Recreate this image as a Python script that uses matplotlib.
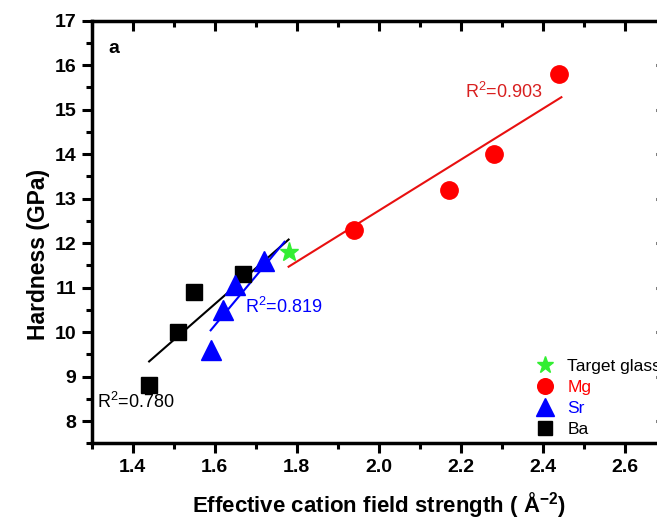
# -*- coding:utf-8 -*-
import numpy as np
import matplotlib
matplotlib.use('Agg')
import matplotlib.pyplot as plt
from matplotlib.ticker import MultipleLocator

# data
ba_x = [1.44, 1.51, 1.55, 1.67]
ba_y = [8.8, 10.0, 10.9, 11.3]
sr_x = [1.59, 1.62, 1.65, 1.72]
sr_y = [9.6, 10.5, 11.05, 11.6]
mg_x = [1.94, 2.17, 2.28, 2.44]
mg_y = [12.3, 13.2, 14.0, 15.8]
target_x = [1.78]
target_y = [11.8]

# fitted line ends as drawn in the picture
ba_fit_x = [1.44, 1.78]
ba_fit_y = [9.34, 12.08]
sr_fit_x = [1.59, 1.77]
sr_fit_y = [10.04, 12.03]
mg_fit_x = [1.78, 2.445]
mg_fit_y = [11.47, 15.28]

r2_labels = ['0.903', '0.819', '0.780']

plt.rcParams['font.family'] = ['Liberation Sans', 'DejaVu Sans']
plt.rcParams['mathtext.fontset'] = 'custom'
plt.rcParams['mathtext.rm'] = 'Liberation Sans'
plt.rcParams['mathtext.bf'] = 'Liberation Sans:bold'

W, H = 657, 520
fig = plt.figure(figsize=(W/100, H/100), dpi=100)
left, right, top, bottom = 91.7, 666.0, 20.7, 443.3
ax = fig.add_axes([left/W, 1-bottom/H, (right-left)/W, (bottom-top)/H])

red = '#FF0000'
blue = '#0000FF'
green = '#33EE33'

ax.plot(ba_fit_x, ba_fit_y, color='black', lw=1.5)
ax.plot(sr_fit_x, sr_fit_y, color=blue, lw=1.5)
ax.plot(mg_fit_x, mg_fit_y, color='#E81010', lw=1.5)

h_ba, = ax.plot(ba_x, ba_y, 's', color='black', ms=11, ls='none')
h_sr, = ax.plot(sr_x, sr_y, '^', color=blue, ms=14, ls='none')
h_mg, = ax.plot(mg_x, mg_y, 'o', color=red, ms=12.5, ls='none')
h_tg, = ax.plot(target_x, target_y, '*', color=green, ms=14, ls='none')

ax.text(2.21, 15.26, r'R$^{2}$=' + r2_labels[0], color='#D82020', fontsize=13, va='baseline')
ax.text(1.673, 10.42, r'R$^{2}$=' + r2_labels[1], color=blue, fontsize=13, va='baseline')
ax.text(1.313, 8.29, r'R$^{2}$=' + r2_labels[2], color='black', fontsize=13, va='baseline')
ax.text(0.039, 0.935, 'a', transform=ax.transAxes, fontsize=14, fontweight='bold',
        ha='center', va='center')

leg = ax.legend([h_tg, h_mg, h_sr, h_ba], ['Target glass', 'Mg', 'Sr', 'Ba'],
                loc='upper left', bbox_to_anchor=(0.775, 0.199), frameon=False,
                fontsize=12.5, handlelength=1.0, handletextpad=0.75, labelspacing=0.33,
                borderpad=0, borderaxespad=0, markerscale=0.9)
for t, c in zip(leg.get_texts(), ['black', red, blue, 'black']):
    t.set_color(c)

ax.set_xlim(1.3, 2.7)
ax.set_ylim(7.5, 17)
ax.xaxis.set_major_locator(MultipleLocator(0.2))
ax.xaxis.set_minor_locator(MultipleLocator(0.1))
ax.yaxis.set_major_locator(MultipleLocator(1))
ax.yaxis.set_minor_locator(MultipleLocator(0.5))
ax.set_xticks(np.arange(1.4, 2.61, 0.2))
ax.set_xticklabels(['%.1f' % v for v in np.arange(1.4, 2.61, 0.2)])

for s in ax.spines.values():
    s.set_linewidth(2.5)
ax.tick_params(which='major', direction='out', length=7, width=2.2, labelsize=14, pad=4)
ax.tick_params(which='minor', direction='out', length=4.3, width=2.2)
for lab in ax.get_xticklabels() + ax.get_yticklabels():
    lab.set_fontweight('bold')

# top and right ticks point inward
secx = ax.secondary_xaxis('top')
secx.xaxis.set_major_locator(MultipleLocator(0.2))
secx.xaxis.set_minor_locator(MultipleLocator(0.1))
secx.tick_params(which='major', direction='in', length=7, width=2.2, labeltop=False)
secx.tick_params(which='minor', direction='in', length=4.3, width=2.2)
secy = ax.secondary_yaxis('right')
secy.yaxis.set_major_locator(MultipleLocator(1))
secy.yaxis.set_minor_locator(MultipleLocator(0.5))
secy.tick_params(which='major', direction='in', length=7, width=2.2, labelright=False)
secy.tick_params(which='minor', direction='in', length=4.3, width=2.2)

ax.set_ylabel('Hardness (GPa)', fontsize=16.5, fontweight='bold')
ax.yaxis.set_label_coords(-0.072, 0.448)
ax.set_xlabel(r'Effective cation field strength ( Å$^{\mathbf{-2}}$)', fontsize=16, fontweight='bold')
ax.xaxis.set_label_coords(0.5, -0.111)

fig.savefig('out.png', dpi=100)
